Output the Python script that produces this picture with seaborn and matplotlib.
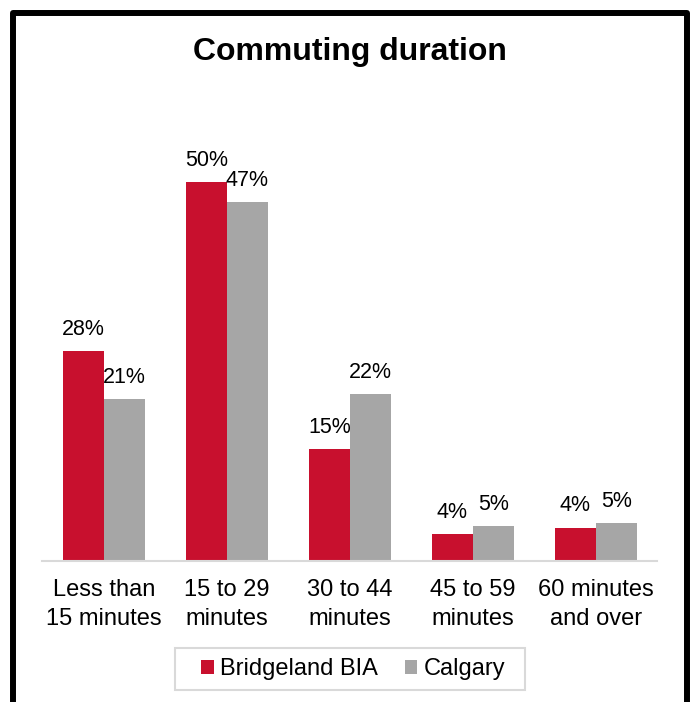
import numpy as np
import pandas as pd
import matplotlib
matplotlib.use("Agg")
import matplotlib.pyplot as plt
from matplotlib.patches import Rectangle
import seaborn as sns

# ---- data ----
categories = ["Less than\n15 minutes", "15 to 29\nminutes", "30 to 44\nminutes",
              "45 to 59\nminutes", "60 minutes\nand over"]
bridgeland = [27.7, 50.0, 14.7, 3.6, 4.4]
calgary = [21.4, 47.3, 22.0, 4.6, 5.0]
series_names = ["Bridgeland BIA", "Calgary"]
colors = ["#C8102E", "#A6A6A6"]

df = pd.DataFrame({
    "cat": categories * 2,
    "val": bridgeland + calgary,
    "series": [series_names[0]] * 5 + [series_names[1]] * 5,
})

sns.set_style("white")
plt.rcParams["font.family"] = ["Liberation Sans", "DejaVu Sans"]
plt.rcParams["text.color"] = "black"
plt.rcParams["xtick.color"] = "black"

W, H = 692, 702
fig = plt.figure(figsize=(W / 100, H / 100), dpi=100)
ax = fig.add_axes([0.0614, 0.2009, 0.8886, 0.5941])

sns.barplot(data=df, x="cat", y="val", hue="series", palette=colors,
            width=2/3, gap=0, saturation=1, ax=ax, legend=True,
            edgecolor="none", linewidth=0)

for cont in ax.containers:
    ax.bar_label(cont, labels=[f"{round(b.get_height())}%" for b in cont],
                 padding=8, fontsize=15.5, color="black")

ax.set_ylim(0, 55)
ax.set_xlim(-0.5, len(categories) - 0.5)
ax.set_xlabel("")
ax.set_ylabel("")
ax.set_yticks([])
for s in ["top", "right", "left"]:
    ax.spines[s].set_visible(False)
ax.spines["bottom"].set_color("#D9D9D9")
ax.spines["bottom"].set_linewidth(1.5)

ax.set_xticks(range(len(categories)))
ax.set_xticklabels(categories, fontsize=17, linespacing=1.4, color="black")
ax.tick_params(axis="x", which="major", length=0, pad=13)
ax.set_xticks(np.arange(-0.5, len(categories), 1), minor=True)
ax.tick_params(axis="x", which="minor", length=5, width=1.5, color="#D9D9D9",
               direction="out")

# legend without its own frame, box drawn separately (wider padding than mpl allows)
handles, labels = ax.get_legend_handles_labels()
ax.get_legend().remove()
fig.legend(handles, labels, loc="center", bbox_to_anchor=(353.5 / W, 1 - 669 / H),
           ncol=2, fontsize=17, frameon=False, handlelength=0.52,
           handleheight=0.52, handletextpad=0.28, columnspacing=1.15,
           borderpad=0, borderaxespad=0)
fig.patches.append(Rectangle((175 / W, 1 - 690 / H), 350 / W, 42 / H,
                             transform=fig.transFigure, fill=False,
                             edgecolor="#D9D9D9", linewidth=1.5))

fig.text(0.506, 0.926, "Commuting duration", ha="center", va="center",
         fontsize=23, fontweight="bold")

# outer frame
fig.patches.append(Rectangle((13 / W, -0.02), (686.5 - 13) / W, 0.9815 + 0.02,
                             transform=fig.transFigure, fill=False,
                             edgecolor="black", linewidth=4.3, joinstyle="round"))

fig.savefig("out.png", dpi=100)
